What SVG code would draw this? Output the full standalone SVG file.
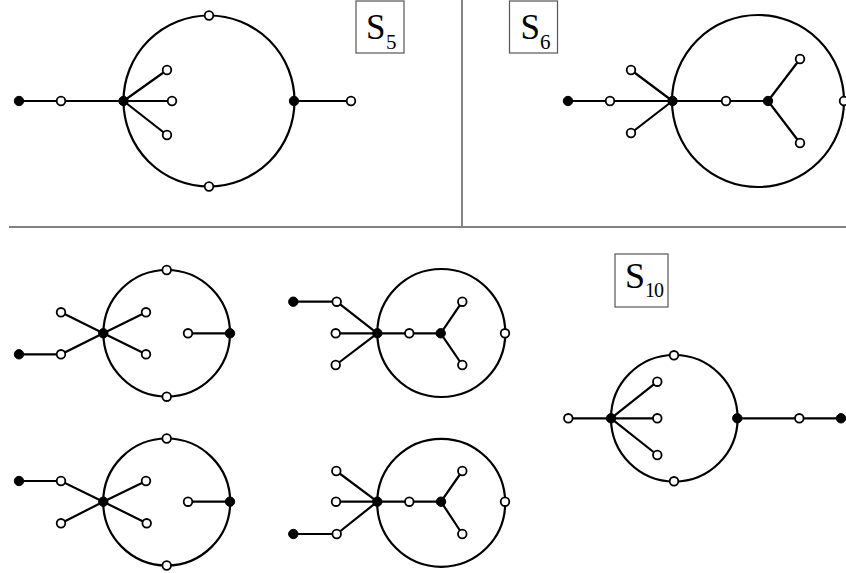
<svg xmlns="http://www.w3.org/2000/svg" width="846" height="573" viewBox="0 0 846 573">
<style>
.e{stroke:#000;stroke-width:2.2;fill:none;stroke-linecap:round}
.o{fill:#fff;stroke:#000;stroke-width:1.8}
.f{fill:#000;stroke:#000;stroke-width:1}
.box{fill:#fff;stroke:#555;stroke-width:1.2}
</style>
<rect width="846" height="573" fill="#fff"/>
<g id="dividers">
<line x1="462" y1="0" x2="462" y2="227" stroke="#333" stroke-width="1.2"/>
<line x1="9" y1="227" x2="846" y2="227" stroke="#808080" stroke-width="2"/>
</g>
<g id="labels" font-family="'Liberation Serif','Times New Roman',serif" fill="#000">
<g id="label-s5"><rect class="box" x="356" y="1" width="48" height="52"/><text x="366" y="38.5" font-size="35">S</text><text x="386" y="48.5" font-size="21">5</text></g>
<g id="label-s6"><rect class="box" x="509.5" y="1" width="48" height="52"/><text x="520.5" y="38.5" font-size="35">S</text><text x="540" y="48.5" font-size="21">6</text></g>
<g id="label-s10"><rect class="box" x="615" y="254" width="53" height="53"/><text x="625" y="287.5" font-size="36">S</text><text x="645" y="297" font-size="20" letter-spacing="-1">10</text></g>
</g>
<g id="connectors">
<circle class="e" cx="209" cy="101" r="85.5"/>
<path class="e" d="M19 101H123.5M123.5 101L167 70M123.5 101H172M123.5 101L167 135M294 101H351"/>
<circle class="e" cx="758" cy="101" r="86"/>
<path class="e" d="M568 101H768M672.5 101L631 70M672.5 101L631 133M768 101L800 59M768 101L800 143"/>
<circle class="e" cx="166.7" cy="333.3" r="63.3"/>
<path class="e" d="M19 354.3H61L103.3 333.3L146 312.3M61 312.3L103.3 333.3L146 354.3M188 333.3H230"/>
<circle class="e" cx="441.3" cy="333" r="64"/>
<path class="e" d="M293.3 301.7H336.7L377.3 333.3M335.7 333.3H440.7M335.7 365L377.3 333.3M440.7 333.3L462.3 301.7M440.7 333.3L462.3 365"/>
<circle class="e" cx="166.7" cy="502" r="63.5"/>
<path class="e" d="M19 481H61L103.3 501.7L146.7 523.3M61 523.3L103.3 501.7L146 481M188 501.7H230"/>
<circle class="e" cx="441.2" cy="502.8" r="64"/>
<path class="e" d="M336.3 471L377.3 501.7M336 501.7H441M293.3 534H336.7L377.3 501.7M441 501.7L462.3 471M441 501.7L462.3 534"/>
<circle class="e" cx="674.3" cy="418.3" r="63.3"/>
<path class="e" d="M568.3 418.3H611M611 418.3L657.3 381.7M611 418.3H657.3M611 418.3L657.3 455M737.3 418.3H841"/>
</g>
<g id="nodes">
<g id="s5-a"><circle class="f" cx="19" cy="101" r="4.7"/></g>
<g id="s5-b"><circle class="o" cx="61" cy="101" r="4.3"/></g>
<g id="s5-hub"><circle class="f" cx="123.5" cy="101" r="4.7"/></g>
<g id="s5-c"><circle class="o" cx="167" cy="70" r="4.3"/></g>
<g id="s5-d"><circle class="o" cx="172" cy="101" r="4.3"/></g>
<g id="s5-e"><circle class="o" cx="167" cy="135" r="4.3"/></g>
<g id="s5-f"><circle class="f" cx="294" cy="101" r="4.7"/></g>
<g id="s5-g"><circle class="o" cx="351" cy="101" r="4.3"/></g>
<g id="s5-top"><circle class="o" cx="209" cy="15.5" r="4.3"/></g>
<g id="s5-bot"><circle class="o" cx="209" cy="186.5" r="4.3"/></g>

<g id="s6-a"><circle class="f" cx="568" cy="101" r="4.7"/></g>
<g id="s6-b"><circle class="o" cx="610" cy="101" r="4.3"/></g>
<g id="s6-hub"><circle class="f" cx="672.5" cy="101" r="4.7"/></g>
<g id="s6-c"><circle class="o" cx="631" cy="70" r="4.3"/></g>
<g id="s6-d"><circle class="o" cx="631" cy="133" r="4.3"/></g>
<g id="s6-e"><circle class="o" cx="726" cy="101" r="4.3"/></g>
<g id="s6-f"><circle class="f" cx="768" cy="101" r="4.7"/></g>
<g id="s6-g"><circle class="o" cx="800" cy="59" r="4.3"/></g>
<g id="s6-h"><circle class="o" cx="800" cy="143" r="4.3"/></g>
<g id="s6-i"><circle class="o" cx="844" cy="101" r="4.3"/></g>

<g id="g3-a"><circle class="f" cx="19" cy="354.3" r="4.7"/></g>
<g id="g3-b"><circle class="o" cx="61" cy="354.3" r="4.3"/></g>
<g id="g3-c"><circle class="o" cx="61" cy="312.3" r="4.3"/></g>
<g id="g3-hub"><circle class="f" cx="103.3" cy="333.3" r="4.7"/></g>
<g id="g3-d"><circle class="o" cx="146" cy="312.3" r="4.3"/></g>
<g id="g3-e"><circle class="o" cx="146" cy="354.3" r="4.3"/></g>
<g id="g3-f"><circle class="o" cx="188" cy="333.3" r="4.3"/></g>
<g id="g3-g"><circle class="f" cx="230" cy="333.3" r="4.7"/></g>
<g id="g3-top"><circle class="o" cx="166.7" cy="270" r="4.3"/></g>
<g id="g3-bot"><circle class="o" cx="166.7" cy="396.7" r="4.3"/></g>

<g id="g4-a"><circle class="f" cx="293.3" cy="301.7" r="4.7"/></g>
<g id="g4-b"><circle class="o" cx="336.7" cy="301.7" r="4.3"/></g>
<g id="g4-c"><circle class="o" cx="335.7" cy="333.3" r="4.3"/></g>
<g id="g4-d"><circle class="o" cx="335.7" cy="365" r="4.3"/></g>
<g id="g4-hub"><circle class="f" cx="377.3" cy="333.3" r="4.7"/></g>
<g id="g4-e"><circle class="o" cx="409.3" cy="333.3" r="4.3"/></g>
<g id="g4-f"><circle class="f" cx="440.7" cy="333.3" r="4.7"/></g>
<g id="g4-g"><circle class="o" cx="462.3" cy="301.7" r="4.3"/></g>
<g id="g4-h"><circle class="o" cx="462.3" cy="365" r="4.3"/></g>
<g id="g4-i"><circle class="o" cx="505" cy="333.3" r="4.3"/></g>

<g id="g5-a"><circle class="f" cx="19" cy="481" r="4.7"/></g>
<g id="g5-b"><circle class="o" cx="61" cy="481" r="4.3"/></g>
<g id="g5-c"><circle class="o" cx="61" cy="523.3" r="4.3"/></g>
<g id="g5-hub"><circle class="f" cx="103.3" cy="501.7" r="4.7"/></g>
<g id="g5-d"><circle class="o" cx="146" cy="481" r="4.3"/></g>
<g id="g5-e"><circle class="o" cx="146.7" cy="523.3" r="4.3"/></g>
<g id="g5-f"><circle class="o" cx="188" cy="501.7" r="4.3"/></g>
<g id="g5-g"><circle class="f" cx="230" cy="501.7" r="4.7"/></g>
<g id="g5-top"><circle class="o" cx="166.7" cy="438.5" r="4.3"/></g>
<g id="g5-bot"><circle class="o" cx="166.7" cy="565.5" r="4.3"/></g>

<g id="g6-a"><circle class="o" cx="336.3" cy="471" r="4.3"/></g>
<g id="g6-b"><circle class="o" cx="336" cy="501.7" r="4.3"/></g>
<g id="g6-c"><circle class="o" cx="336.7" cy="534" r="4.3"/></g>
<g id="g6-d"><circle class="f" cx="293.3" cy="534" r="4.7"/></g>
<g id="g6-hub"><circle class="f" cx="377.3" cy="501.7" r="4.7"/></g>
<g id="g6-e"><circle class="o" cx="409.3" cy="501.7" r="4.3"/></g>
<g id="g6-f"><circle class="f" cx="441" cy="501.7" r="4.7"/></g>
<g id="g6-g"><circle class="o" cx="462.3" cy="471" r="4.3"/></g>
<g id="g6-h"><circle class="o" cx="462.3" cy="534" r="4.3"/></g>
<g id="g6-i"><circle class="o" cx="505" cy="501.7" r="4.3"/></g>

<g id="s10-a"><circle class="o" cx="568.3" cy="418.3" r="4.3"/></g>
<g id="s10-hub"><circle class="f" cx="611" cy="418.3" r="4.7"/></g>
<g id="s10-b"><circle class="o" cx="657.3" cy="381.7" r="4.3"/></g>
<g id="s10-c"><circle class="o" cx="657.3" cy="418.3" r="4.3"/></g>
<g id="s10-d"><circle class="o" cx="657.3" cy="455" r="4.3"/></g>
<g id="s10-e"><circle class="f" cx="737.3" cy="418.3" r="4.7"/></g>
<g id="s10-f"><circle class="o" cx="799.3" cy="418.3" r="4.3"/></g>
<g id="s10-g"><circle class="f" cx="841" cy="418.3" r="4.7"/></g>
<g id="s10-top"><circle class="o" cx="674" cy="355.3" r="4.3"/></g>
<g id="s10-bot"><circle class="o" cx="674" cy="481.3" r="4.3"/></g>
</g>
</svg>
